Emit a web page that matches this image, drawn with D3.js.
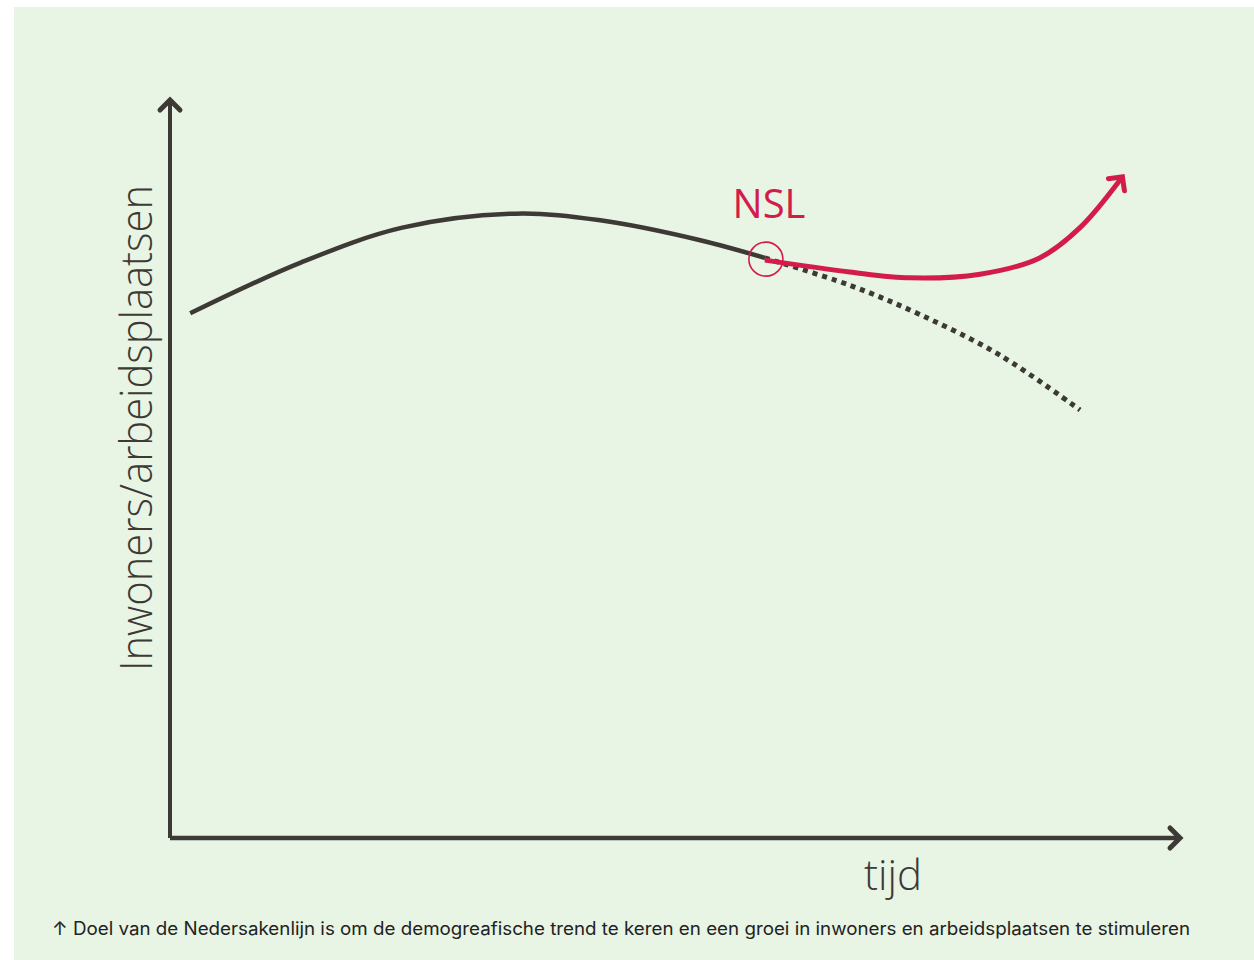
<!DOCTYPE html>
<meta charset="utf-8">
<script src="https://d3js.org/d3.v7.min.js"></script>
<style>
  body { margin: 0; background: #fff; }
</style>
<div id="my_dataviz"></div>
<script>

// trend values (time 0-100, level 0-100)
var trendX = [2, 13, 23, 34.2, 42.6, 52.5, 58.9];
var trendY = [71.1, 78.0, 82.7, 84.6, 83.7, 81.0, 78.6];

// expected trend without NSL (dotted)
var declineX = [58.9, 67.3, 74.3, 82.2, 90.1];
var declineY = [78.6, 74.9, 70.9, 65.4, 58.0];

// trend with NSL (red arrow)
var nslX = [58.9, 67.3, 73.3, 80.2, 86.1, 90.1, 94.3];
var nslY = [78.3, 76.7, 75.9, 76.4, 78.6, 82.7, 89.6];

var yLabel = "Inwoners/arbeidsplaatsen";
var xLabel = "tijd";
var caption = "\u2191 Doel van de Nedersakenlijn is om de demogreafische trend te keren en een groei in inwoners en arbeidsplaatsen te stimuleren";

var width = 1254, height = 960;
var dark = "#3d3935", red = "#d31c4a";

var svg = d3.select("#my_dataviz")
  .append("svg")
    .attr("width", width)
    .attr("height", height)

// panel
svg.append("rect")
  .attr("x", 14).attr("y", 7)
  .attr("width", width - 14).attr("height", height - 7)
  .attr("fill", "#e8f4e4")

var x = d3.scaleLinear().domain([0, 100]).range([170, 1180]);
var y = d3.scaleLinear().domain([0, 100]).range([838, 100]);

var defs = svg.append("defs")
function marker(id, color, s) {
  defs.append("marker")
    .attr("id", id)
    .attr("viewBox", "-16 -16 32 32")
    .attr("markerWidth", 32).attr("markerHeight", 32)
    .attr("markerUnits", "userSpaceOnUse")
    .attr("orient", "auto")
    .append("path")
      .attr("d", "M" + (-s) + "," + (-s) + "L0,0L" + (-s) + "," + s)
      .attr("fill", "none")
      .attr("stroke", color)
      .attr("stroke-width", 5)
      .attr("stroke-linecap", "round")
      .attr("stroke-linejoin", "miter")
}
marker("arrDark", dark, 10)
marker("arrRed", red, 10)

// axes
svg.append("path")
  .attr("d", "M" + x(0) + "," + y(0) + "L" + x(0) + "," + y(100))
  .attr("stroke", dark).attr("stroke-width", 4)
  .attr("marker-end", "url(#arrDark)")
svg.append("path")
  .attr("d", "M" + x(0) + "," + y(0) + "L" + x(100) + "," + y(0))
  .attr("stroke", dark).attr("stroke-width", 4.5)
  .attr("marker-end", "url(#arrDark)")

var line = d3.line()
  .x(function(d) { return x(d[0]); })
  .y(function(d) { return y(d[1]); })
  .curve(d3.curveCatmullRom)

// dotted decline
svg.append("path")
  .datum(d3.zip(declineX, declineY))
  .attr("d", line)
  .attr("fill", "none")
  .attr("stroke", dark)
  .attr("stroke-width", 5)
  .attr("stroke-dasharray", "5,5")

// main trend
svg.append("path")
  .datum(d3.zip(trendX, trendY))
  .attr("d", line)
  .attr("fill", "none")
  .attr("stroke", dark)
  .attr("stroke-width", 4.5)

// NSL arrow
svg.append("path")
  .datum(d3.zip(nslX, nslY))
  .attr("d", line)
  .attr("fill", "none")
  .attr("stroke", red)
  .attr("stroke-width", 5)
  .attr("marker-end", "url(#arrRed)")

// circle at turning point
svg.append("circle")
  .attr("cx", x(nslX[0]) + 1)
  .attr("cy", y(nslY[0]) - 1)
  .attr("r", 17)
  .attr("fill", "none")
  .attr("stroke", red)
  .attr("stroke-width", 1.6)

svg.append("text")
  .attr("x", 769).attr("y", 218)
  .attr("text-anchor", "middle")
  .style("font-family", "'Open Sans', sans-serif")
  .style("font-size", "40px")
  .style("fill", red)
  .text("NSL")

// axis labels
svg.append("text")
  .attr("transform", "translate(152,428) rotate(-90)")
  .attr("text-anchor", "middle")
  .attr("textLength", 486)
  .attr("lengthAdjust", "spacingAndGlyphs")
  .style("font-family", "'Open Sans', sans-serif")
  .style("font-weight", 300)
  .style("font-size", "44px")
  .style("fill", dark)
  .text(yLabel)

svg.append("text")
  .attr("x", 893).attr("y", 890)
  .attr("text-anchor", "middle")
  .style("font-family", "'Open Sans', sans-serif")
  .style("font-weight", 300)
  .style("font-size", "42px")
  .style("fill", dark)
  .text(xLabel)

svg.append("text")
  .attr("x", 52).attr("y", 935)
  .attr("textLength", 1138)
  .attr("lengthAdjust", "spacingAndGlyphs")
  .style("font-family", "Inter, sans-serif")
  .style("font-size", "18px")
  .style("fill", "#222")
  .text(caption)

</script>
